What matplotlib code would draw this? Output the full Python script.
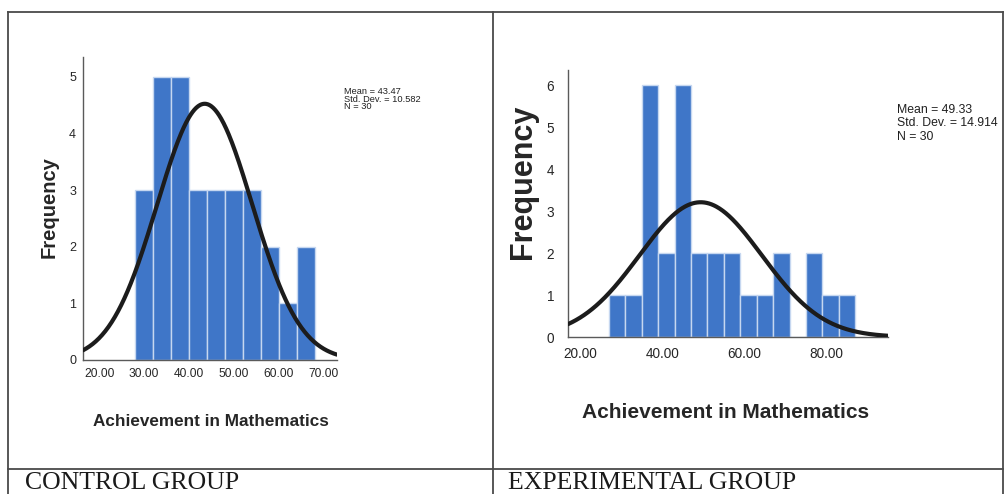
import numpy as np
import matplotlib
matplotlib.use("Agg")
import matplotlib.pyplot as plt
from matplotlib.lines import Line2D
from matplotlib import font_manager

# ---------------- data ----------------
bin_width = 4.0
control_start = 28.0
control_counts = [3, 5, 5, 3, 3, 3, 3, 2, 1, 2]
control_mean, control_sd, control_n = 43.47, 10.582, 30

experimental_start = 27.0
experimental_counts = [1, 1, 6, 2, 6, 2, 2, 2, 1, 1, 2, 0, 2, 1, 1]
experimental_mean, experimental_sd, experimental_n = 49.33, 14.914, 30

control_xticks = [20, 30, 40, 50, 60, 70]
experimental_xticks = [20, 40, 60, 80]
control_yticks = [0, 1, 2, 3, 4, 5]
experimental_yticks = [0, 1, 2, 3, 4, 5, 6]

x_label = "Achievement in Mathematics"
y_label = "Frequency"
captions = ["CONTROL GROUP", "EXPERIMENTAL GROUP"]

# ---------------- fonts ----------------
names = {f.name for f in font_manager.fontManager.ttflist}
NARROW = "Liberation Sans Narrow" if "Liberation Sans Narrow" in names else "Liberation Sans"
nk = 1.0 if NARROW == "Liberation Sans Narrow" else 0.82
SANS = "Liberation Sans"
SERIF = "Liberation Serif"

W, H = 1005, 494
fig = plt.figure(figsize=(W / 100, H / 100), dpi=100)
fig.patch.set_facecolor("white")


def fx(px):
    return px / W


def fy(py):
    return 1 - py / H


BAR = "#3f76c8"
EDGE = "#c6d7f0"
TXT = "#262626"


def panel(ax, start, counts, mean, sd, n, xlim, ylim, xticks, yticks,
          tick_fs_x, tick_fs_y, padx, pady):
    edges = start + bin_width * np.arange(len(counts))
    ax.bar(edges, counts, width=bin_width, align="edge", color=BAR,
           edgecolor=EDGE, linewidth=1.0, zorder=2)
    xs = np.linspace(xlim[0], xlim[1], 400)
    ys = n * bin_width / (sd * np.sqrt(2 * np.pi)) * np.exp(-0.5 * ((xs - mean) / sd) ** 2)
    ax.plot(xs, ys, color="#1c1c1c", lw=3.0, zorder=3, solid_capstyle="round")
    ax.set_xlim(*xlim)
    ax.set_ylim(*ylim)
    ax.set_xticks(xticks)
    ax.set_xticklabels([f"{t:.2f}" for t in xticks])
    ax.set_yticks(yticks)
    ax.set_yticklabels([str(t) for t in yticks])
    for s in ("top", "right"):
        ax.spines[s].set_visible(False)
    for s in ("left", "bottom"):
        ax.spines[s].set_color("#5a5a5a")
        ax.spines[s].set_linewidth(1.0)
    ax.tick_params(axis="x", length=0, pad=padx, labelsize=tick_fs_x, labelcolor=TXT)
    ax.tick_params(axis="y", length=0, pad=pady, labelsize=tick_fs_y, labelcolor=TXT)
    for lab in ax.get_xticklabels() + ax.get_yticklabels():
        lab.set_fontfamily(NARROW)
        lab.set_fontweight("medium")
    ax.patch.set_alpha(0)


ax1 = fig.add_axes([fx(83), fy(360), (337 - 83) / W, (360 - 57) / H])
panel(ax1, control_start, control_counts, control_mean, control_sd, control_n,
      (16.4, 72.9), (0, 5.35), control_xticks, control_yticks,
      10.5 * nk, 11 * nk, 6.0, 5)

ax2 = fig.add_axes([fx(568), fy(337), (888 - 568) / W, (337 - 70) / H])
panel(ax2, experimental_start, experimental_counts, experimental_mean,
      experimental_sd, experimental_n, (17.0, 95.0), (0, 6.36),
      experimental_xticks, experimental_yticks, 12 * nk, 12 * nk, 7, 10)

# axis titles
fig.text(fx(49), fy(207), y_label, rotation=90, ha="center", va="center",
         fontsize=14.5, fontweight="bold", family=SANS, color=TXT)
fig.text(fx(523), fy(182), y_label, rotation=90, ha="center", va="center",
         fontsize=22, fontweight="bold", family=SANS, color=TXT)
fig.text(fx(211), fy(422), x_label, ha="center", va="center",
         fontsize=15 * nk, fontweight="bold", family=NARROW, color=TXT)
fig.text(fx(726), fy(412), x_label, ha="center", va="center",
         fontsize=18.3 * nk, fontweight="bold", family=NARROW, color=TXT)

# statistics boxes
left_stats = [f"Mean = {control_mean:.2f}", f"Std. Dev. = {control_sd:.3f}", f"N = {control_n}"]
for i, s in enumerate(left_stats):
    fig.text(fx(344), fy(92 + 7.3 * i), s, ha="left", va="center",
             fontsize=6.7, family=SANS, color="#202020")
right_stats = [f"Mean = {experimental_mean:.2f}", f"Std. Dev. = {experimental_sd:.3f}", f"N = {experimental_n}"]
for i, s in enumerate(right_stats):
    fig.text(fx(897), fy(110 + 13.5 * i), s, ha="left", va="center",
             fontsize=10.8 * nk, family=NARROW, color="#202020")

# captions
fig.text(fx(25), fy(489), captions[0], ha="left", va="baseline",
         fontsize=18.5, family=SERIF, color="#1a1a1a")
fig.text(fx(508), fy(489), captions[1], ha="left", va="baseline",
         fontsize=18.5, family=SERIF, color="#1a1a1a")

# table frame
FR = "#4a4a4a"
lw = 1.3
for (x0, y0, x1, y1) in [(8, 12, 1003, 12), (8, 12, 8, 494), (1003, 12, 1003, 494),
                         (493, 12, 493, 494), (8, 469, 1003, 469)]:
    fig.add_artist(Line2D([fx(x0), fx(x1)], [fy(y0), fy(y1)], color=FR, lw=lw,
                          transform=fig.transFigure))

fig.savefig("out.png", dpi=100, facecolor="white")
